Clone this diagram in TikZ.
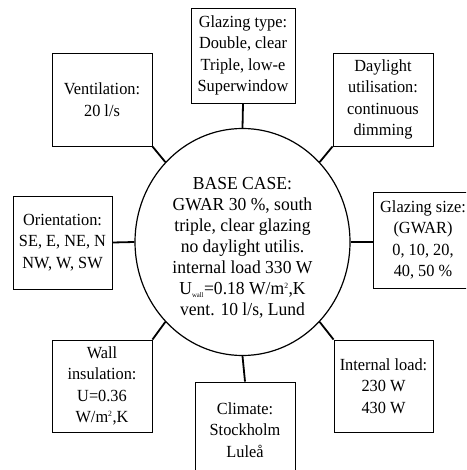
\documentclass[tikz,border=0pt]{standalone}
\usepackage{fontspec}
\setmainfont[FakeStretch=0.96]{Liberation Serif}
\usetikzlibrary{shapes.geometric}
\begin{document}
\begin{tikzpicture}[x=1pt,y=-1pt,
  box/.style={draw, line width=0.9pt, align=center, inner sep=2pt,
    minimum width=100pt, minimum height=93pt,
    font=\fontsize{17}{21.5}\selectfont},
  hub/.style={ellipse, draw, line width=1.2pt, inner sep=0pt,
    minimum width=215pt, minimum height=227pt},
  hubtext/.style={align=center, inner sep=0pt,
    font=\fontsize{18.3}{20.9}\selectfont},
  link/.style={line width=1.8pt}]
\useasboundingbox (0,0) rectangle (466,470);
\clip (0,0) rectangle (466,470);

\node[hub] (base) at (242.5,242) {};
\node[hubtext] (basetext) at (242.5,248) {BASE CASE:\\GWAR 30 \%, south\\triple, clear glazing\\no daylight utilis.\\internal load 330 W\\U\textsubscript{\fontsize{7}{7}\selectfont wall}=0.18 W/m\textsuperscript{\fontsize{8}{8}\selectfont 2},K\\vent. 10 l/s, Lund};

\node[box] (vent) at (102,99.5) {Ventilation:\\20 l/s};
\node[box, minimum width=104pt, minimum height=95pt] (gtype) at (243,55.5) {Glazing type:\\Double, clear\\Triple, low-e\\Superwindow};
\node[box] (day) at (383,99.5) {Daylight\\utilisation:\\continuous\\dimming};
\node[box, minimum height=96pt] (gsize) at (423,240) {Glazing size:\\(GWAR)\\0, 10, 20,\\40, 50 \%};
\node[box, minimum width=99pt, minimum height=92pt] (intload) at (383.5,386) {Internal load:\\230 W\\430 W};
\node[box, minimum height=96pt] (climate) at (245,430) {Climate:\\Stockholm\\Luleå};
\node[box, minimum height=92pt] (wall) at (102,386) {Wall\\insulation:\\U=0.36\\W/m\textsuperscript{\fontsize{8}{8}\selectfont 2},K};
\node[box, minimum width=99pt] (orient) at (62.5,242.5) {Orientation:\\SE, E, NE, N\\NW, W, SW};

\draw[link] (vent.south east) -- (base.134);
\draw[link] (gtype.south) -- (base.north);
\draw[link] (day.south west) -- (base.46);
\draw[link] (base.east) -- (base.east -| gsize.west);
\draw[link] (intload.north west) -- (base.-46);
\draw[link] (climate.north) -- (base.south);
\draw[link] (wall.north east) -- (base.-134);
\draw[link] (orient.east) -- (base.west);
\end{tikzpicture}
\end{document}
